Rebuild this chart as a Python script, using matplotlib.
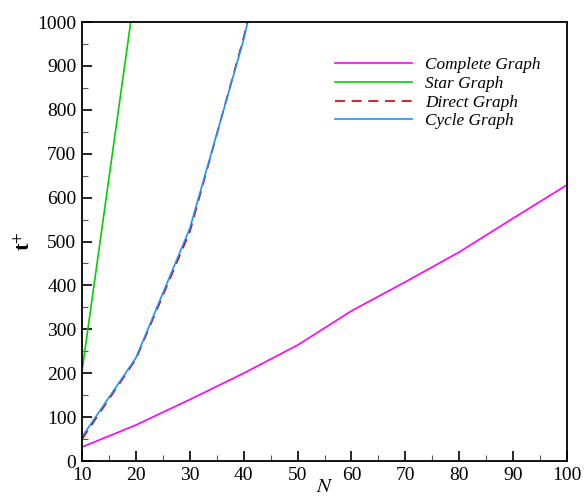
import numpy as np
import matplotlib.pyplot as plt
from matplotlib.ticker import MultipleLocator

# values
n_complete = [10, 20, 30, 40, 50, 60, 70, 80, 90, 100]
t_complete = [32, 82, 140, 200, 264, 342, 408, 476, 553, 629]

n_star = [10, 20]
t_star = [205, 1085]

n_direct = [10, 20, 30, 40, 50]
t_direct = [50, 232, 522, 965, 1500]

n_cycle = [10, 20, 30, 40, 50]
t_cycle = [55, 235, 530, 960, 1500]

plt.rcParams['font.family'] = ['Liberation Serif', 'DejaVu Serif']
plt.rcParams['mathtext.fontset'] = 'stix'

fig = plt.figure(figsize=(5.86, 4.97), dpi=100)
ax = fig.add_axes([0.140, 0.0724, 0.8276, 0.8833])

ax.plot(n_complete, t_complete, color='#FF00FF', lw=1.2, label='Complete Graph')
ax.plot(n_star, t_star, color='#00D000', lw=1.2, label='Star Graph')
ax.plot(n_direct, t_direct, color='#D00000', lw=1.2, ls=(0, (6, 4)), label='Direct Graph')
ax.plot(n_cycle, t_cycle, color='#1E90FF', lw=1.2, label='Cycle Graph')

ax.set_xlim(10, 100)
ax.set_ylim(0, 1000)
ax.xaxis.set_major_locator(MultipleLocator(10))
ax.xaxis.set_minor_locator(MultipleLocator(5))
ax.yaxis.set_major_locator(MultipleLocator(100))
ax.yaxis.set_minor_locator(MultipleLocator(50))
ax.tick_params(which='both', direction='in', top=False, right=False, labelsize=14, width=1.2)
ax.tick_params(which='major', length=7, pad=4)
ax.tick_params(which='minor', length=4, width=0.8, color='#555555')
for s in ax.spines.values():
    s.set_linewidth(1.3)

ax.set_xlabel('$N$', fontsize=15, labelpad=-4)
ax.set_ylabel('t$^{+}$', fontsize=16, fontweight='bold', labelpad=2)

leg = ax.legend(loc='upper left', bbox_to_anchor=(0.489, 0.955), frameon=False,
                prop={'style': 'italic', 'size': 12.4}, handlelength=4.5,
                labelspacing=0.15, handletextpad=0.75)

fig.savefig('out.png', dpi=100)
